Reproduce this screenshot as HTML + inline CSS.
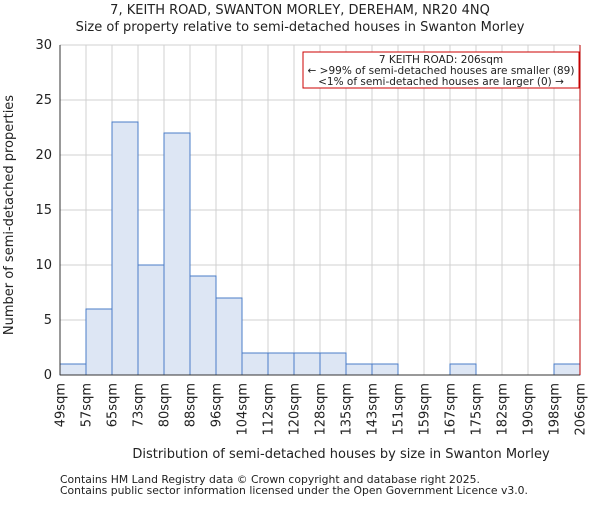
<!DOCTYPE html>
<html><head><meta charset="utf-8"><style>
body{margin:0;background:#fff;}
svg text{font-family:"DejaVu Sans","Liberation Sans",sans-serif;fill:#222;}
</style></head><body>
<svg id="chart" width="600" height="500" xmlns="http://www.w3.org/2000/svg">
<text x="300" y="14" font-size="13" text-anchor="middle">7, KEITH ROAD, SWANTON MORLEY, DEREHAM, NR20 4NQ</text>
<text x="300" y="31" font-size="13" text-anchor="middle">Size of property relative to semi-detached houses in Swanton Morley</text>
<g id="grid"></g><g id="bars"></g><g id="axes"></g>
<text x="341" y="458" font-size="13" text-anchor="middle">Distribution of semi-detached houses by size in Swanton Morley</text>
<text transform="translate(13,215) rotate(-90)" font-size="13" text-anchor="middle">Number of semi-detached properties</text>
<rect x="303" y="52" width="276" height="36" fill="#fff" stroke="#c00" stroke-width="1"/>
<text x="441" y="63" font-size="10.5" text-anchor="middle">7 KEITH ROAD: 206sqm</text>
<text x="441" y="74" font-size="10.5" text-anchor="middle">← &gt;99% of semi-detached houses are smaller (89)</text>
<text x="441" y="85" font-size="10.5" text-anchor="middle">&lt;1% of semi-detached houses are larger (0) →</text>
<text x="60" y="483" font-size="10.8" fill="#444">Contains HM Land Registry data © Crown copyright and database right 2025.</text>
<text x="60" y="494" font-size="10.8" fill="#444">Contains public sector information licensed under the Open Government Licence v3.0.</text>
</svg>
<script>
const binLabels=["49sqm","57sqm","65sqm","73sqm","80sqm","88sqm","96sqm","104sqm","112sqm","120sqm","128sqm","135sqm","143sqm","151sqm","159sqm","167sqm","175sqm","182sqm","190sqm","198sqm","206sqm"];
const counts=[1,6,23,10,22,9,7,2,2,2,2,1,1,0,0,1,0,0,0,1];
const yTicks=[0,5,10,15,20,25,30];
const markerIndex=20;
const NS="http://www.w3.org/2000/svg";
const X0=60,X1=580,Y0=375,Y1=45,YMAX=30;
const bw=(X1-X0)/counts.length;
const xs=i=>X0+i*bw;
const ys=v=>Y0-(v/YMAX)*(Y0-Y1);
function mk(tag,attrs,parent){const e=document.createElementNS(NS,tag);for(const k in attrs)e.setAttribute(k,attrs[k]);document.getElementById(parent).appendChild(e);return e;}
yTicks.forEach(t=>{
 const l=mk('line',{x1:X0,x2:X1,y1:ys(t),y2:ys(t),stroke:'#d0d0d0','stroke-width':1},'grid');
 
 
 const tx=mk('text',{x:X0-8,y:ys(t)+4,'font-size':13,'text-anchor':'end'},'axes');
 tx.textContent=t;
 
 
});
binLabels.forEach((lb,i)=>{
 const l=mk('line',{x1:xs(i),x2:xs(i),y1:Y1,y2:Y0,stroke:'#d0d0d0','stroke-width':1},'grid');
 
 
 const x=xs(i),y=Y0+8;
 const tx=mk('text',{x:x+4.5,y:y,'font-size':13,'text-anchor':'end',transform:`rotate(-90 ${x+4.5} ${y})`},'axes');
 tx.textContent=lb;
 
 
});
counts.forEach((c,i)=>{
 if(c<=0)return;
 const r=mk('rect',{x:xs(i),y:ys(c),width:bw,height:Y0-ys(c),fill:'#dde6f4',stroke:'#4a7cc7','stroke-width':1},'bars');
 
 
});
const ax=mk('line',{x1:X0,x2:X0,y1:Y1,y2:Y0,stroke:'#333','stroke-width':1},'axes');


const bx=mk('line',{x1:X0,x2:X1,y1:Y0,y2:Y0,stroke:'#333','stroke-width':1},'axes');


const m=mk('line',{x1:xs(markerIndex),x2:xs(markerIndex),y1:Y1,y2:Y0,stroke:'#b00','stroke-width':1},'axes');


</script>
</body></html>
